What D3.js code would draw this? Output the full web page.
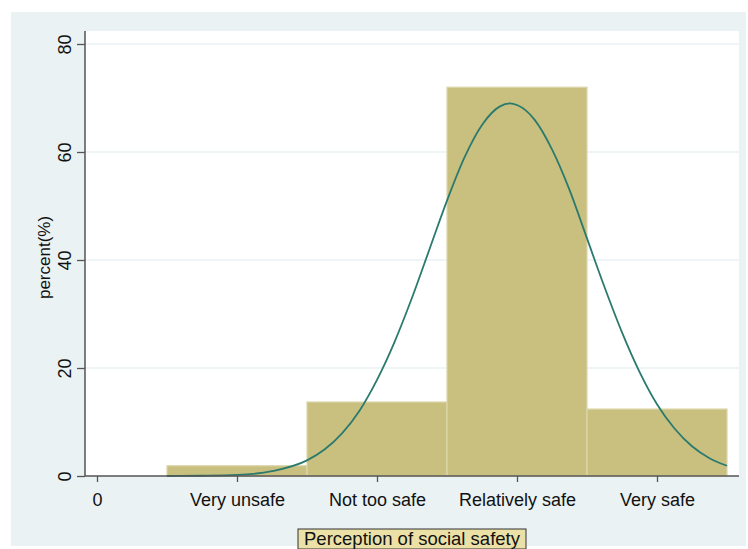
<!DOCTYPE html>
<html>
<head>
<meta charset="utf-8">
<script src="https://cdn.jsdelivr.net/npm/d3@7"></script>
<style>
  body { margin: 0; background: #fff; }
  svg { display: block; font-family: "Liberation Sans", Arial, sans-serif; }
  .tick line { stroke: #555; }
</style>
</head>
<body>
<svg width="748" height="549"></svg>
<script>
// categories and bar heights (percent)
const categories = ['Very unsafe', 'Not too safe', 'Relatively safe', 'Very safe'];
const catCodes = [1, 2, 3, 4];
const percents = [1.9, 13.7, 72.0, 12.4];

// x tick values / labels
const xTickValues = [0, 1, 2, 3, 4];
const xTickLabels = ['0', 'Very unsafe', 'Not too safe', 'Relatively safe', 'Very safe'];
const yTickValues = [0, 20, 40, 60, 80];

// normal density overlay
const curveX = [0.5, 0.75, 1.0, 1.25, 1.5, 1.625, 1.75, 1.875, 2.0, 2.125, 2.25, 2.375, 2.5, 2.625, 2.75, 2.875, 2.95,
                3.0, 3.125, 3.25, 3.375, 3.5, 3.625, 3.75, 3.875, 4.0, 4.125, 4.25, 4.375, 4.5];
const curveY = [0.0, 0.05, 0.2, 0.9, 2.9, 4.9, 7.9, 12.1, 17.8, 24.8, 33.0, 42.0, 51.0, 59.0, 65.0, 68.4, 69.0,
                68.7, 66.0, 60.5, 53.0, 44.0, 35.0, 26.6, 19.3, 13.3, 8.8, 5.5, 3.3, 1.9];

const svg = d3.select('svg');
const width = +svg.attr('width');
const height = +svg.attr('height');

// outer (graph region) background
svg.append('rect')
  .attr('x', 11).attr('y', 12)
  .attr('width', 735).attr('height', 534)
  .attr('fill', '#eaf2f3');

const margin = { top: 31, left: 85, right: 9, bottom: 73 };
const innerWidth = width - margin.left - margin.right;   // 654
const innerHeight = height - margin.top - margin.bottom;  // 445

const g = svg.append('g')
  .attr('transform', `translate(${margin.left}, ${margin.top})`);

// plot region
g.append('rect')
  .attr('width', innerWidth).attr('height', innerHeight)
  .attr('fill', '#fff');

const xScale = d3.scaleLinear()
  .domain([0, 4])
  .range([12, 572]);

const yScale = d3.scaleLinear()
  .domain([0, 80])
  .range([innerHeight, 13]);

// grid lines
g.selectAll('.grid').data(yTickValues.filter(d => d > 0))
  .enter().append('line')
  .attr('class', 'grid')
  .attr('x1', 0).attr('x2', innerWidth)
  .attr('y1', d => yScale(d)).attr('y2', d => yScale(d))
  .attr('stroke', '#eaf2f3')
  .attr('stroke-width', 1.5);

// bars
const data = categories.map((c, i) => ({ name: c, code: catCodes[i], pct: percents[i] }));

g.selectAll('.bar').data(data)
  .enter().append('rect')
  .attr('class', 'bar')
  .attr('x', d => xScale(d.code - 0.5))
  .attr('y', d => yScale(d.pct))
  .attr('width', d => xScale(d.code + 0.5) - xScale(d.code - 0.5))
  .attr('height', d => yScale(0) - yScale(d.pct))
  .attr('fill', '#c9c07f')
  .attr('stroke', '#dcd6aa')
  .attr('stroke-width', 1.2);

// normal curve
const curvePts = curveX.map((x, i) => [x, curveY[i]]);
const lineGenerator = d3.line()
  .x(d => xScale(d[0]))
  .y(d => yScale(d[1]))
  .curve(d3.curveMonotoneX);

g.append('path')
  .attr('d', lineGenerator(curvePts))
  .attr('fill', 'none')
  .attr('stroke', '#2b7a6e')
  .attr('stroke-width', 1.8);

// y axis
const yAxis = d3.axisLeft(yScale)
  .tickValues(yTickValues)
  .tickSize(8)
  .tickSizeOuter(0);

const yAxisGroup = g.append('g').call(yAxis);
yAxisGroup.selectAll('.domain').remove();
yAxisGroup.selectAll('.tick line').attr('stroke', '#555').attr('stroke-width', 1.3);
yAxisGroup.selectAll('.tick text')
  .attr('transform', 'rotate(-90)')
  .attr('x', 0)
  .attr('y', -14)
  .attr('dy', 0)
  .style('text-anchor', 'middle')
  .style('font-size', '18px')
  .attr('fill', '#111');

g.append('line')
  .attr('x1', 0).attr('x2', 0)
  .attr('y1', 0).attr('y2', innerHeight)
  .attr('stroke', '#555').attr('stroke-width', 1.5);

// x axis
const xAxis = d3.axisBottom(xScale)
  .tickValues(xTickValues)
  .tickFormat((d, i) => xTickLabels[i])
  .tickSize(6)
  .tickSizeOuter(0);

const xAxisGroup = g.append('g').call(xAxis)
  .attr('transform', `translate(0, ${innerHeight})`);
xAxisGroup.selectAll('.domain').remove();
xAxisGroup.selectAll('.tick line').attr('stroke', '#555').attr('stroke-width', 1.3);
xAxisGroup.selectAll('.tick text')
  .attr('y', 30)
  .attr('dy', 0)
  .style('font-size', '18px')
  .attr('fill', '#111');

g.append('line')
  .attr('x1', 0).attr('x2', innerWidth)
  .attr('y1', innerHeight).attr('y2', innerHeight)
  .attr('stroke', '#555').attr('stroke-width', 1.5);

// y axis title
g.append('text')
  .attr('transform', `translate(-35, ${innerHeight / 2 + 4}) rotate(-90)`)
  .style('text-anchor', 'middle')
  .style('font-size', '17px')
  .attr('fill', '#111')
  .text('percent(%)');

// x axis title in a box
const xTitle = 'Perception of social safety';
const titleG = g.append('g')
  .attr('transform', `translate(${innerWidth / 2}, ${innerHeight + 53})`);
titleG.append('rect')
  .attr('x', -114).attr('y', 0)
  .attr('width', 228).attr('height', 20)
  .attr('fill', '#ebe1a7')
  .attr('stroke', '#333').attr('stroke-width', 1);
titleG.append('text')
  .attr('y', 16)
  .style('text-anchor', 'middle')
  .style('font-size', '18.5px')
  .attr('fill', '#111')
  .text(xTitle);
</script>
</body>
</html>
